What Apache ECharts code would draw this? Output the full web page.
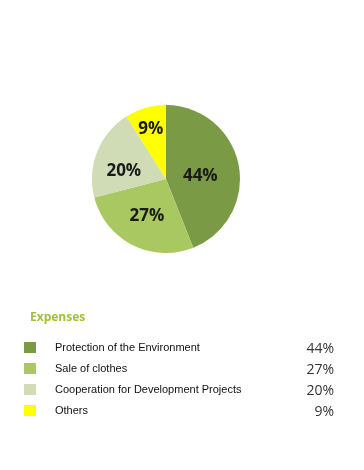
<!DOCTYPE html>
<html><head><meta charset="utf-8">
<script src="https://cdn.jsdelivr.net/npm/echarts@6/dist/echarts.min.js"></script>
<style>html,body{margin:0;padding:0;background:#fff}#c{width:364px;height:470px}</style>
</head><body><div id="c"></div>
<script>
const categories = ["Protection of the Environment","Sale of clothes","Cooperation for Development Projects","Others"];
const values = [44, 27, 20, 9];
const colors = ["#7b9a45","#a9c862","#cfdcb6","#ffff00"];
const title = "Expenses";

const labelOffsets = [[-5,5],[-1,2],[-5,7],[-4,-11]];
const chart = echarts.init(document.getElementById('c'));
const rowTop = 344.5, rowGap = 20.7;
const valueTexts = values.map((v,i)=>({
  type:'text', right: 30, top: rowTop - 2 + i*rowGap,
  style:{text: v + '%', font: '14px "Open Sans", sans-serif', fill:'#333'}
}));
chart.setOption({
  animation:false,
  color: colors,
  graphic: [
    {type:'text', left: 30, top: 312, style:{text:title, font:'bold 12px "Open Sans", sans-serif', fill:'#a3c03c'}},
    ...valueTexts
  ],
  legend:{
    orient:'vertical', left: 19, top: 337, itemWidth: 12, itemHeight: 11, itemGap: 10,
    icon:'rect',
    selectedMode:false,
    textStyle:{fontSize:11, lineHeight:11, color:'#111', fontFamily:'"Liberation Sans Narrow", "Arial Narrow", "Liberation Sans", sans-serif', padding:[0,0,0,14]},
    data: categories
  },
  series:[{
    type:'pie', center:[166,179], radius:[0,74], startAngle:90, clockwise:true,
    label:{show:true, position:'inside', formatter:'{c}%', fontSize:17, fontWeight:'bold', color:'#1a1a1a', fontFamily:'"Open Sans", sans-serif'},
    labelLine:{show:false},
    itemStyle:{borderWidth:0},
    emphasis:{disabled:true},
    data: categories.map((n,i)=>({name:n, value:values[i], label:{offset:labelOffsets[i]}}))
  }]
});
</script></body></html>
